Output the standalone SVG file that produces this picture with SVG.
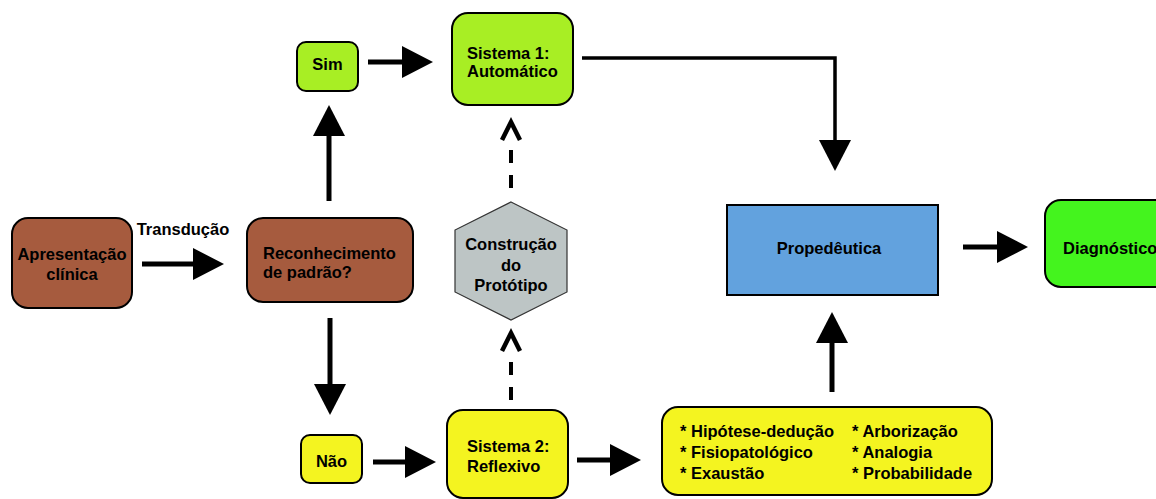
<svg xmlns="http://www.w3.org/2000/svg" width="1156" height="499" viewBox="0 0 1156 499">
  <style>
    text { font-family: "Liberation Sans", Arial, sans-serif; font-weight: bold; font-size: 16.5px; fill: #000; }
    .box { stroke: #000; stroke-width: 2; }
    .brown { fill: #A65B3E; }
    .lime { fill: #A8EE24; }
    .green { fill: #44F41E; }
    .blue { fill: #62A2DE; }
    .gray { fill: #BDC5C5; }
    .yellow { fill: #F4F420; }
    .c { text-anchor: middle; }
    .conn { stroke: #000; stroke-width: 5; fill: none; }
    .thin { stroke-width: 3.5; }
    .dash { stroke: #000; stroke-width: 4; fill: none; stroke-dasharray: 13 12; }
    .chev { stroke: #000; stroke-width: 4.5; fill: none; stroke-linejoin: miter; }
  </style>
  <defs>
    <marker id="head" markerUnits="userSpaceOnUse" markerWidth="32" markerHeight="34" refX="0" refY="16" orient="auto">
      <path d="M0,0 L31,16 L0,32 z" fill="#000"/>
    </marker>
  </defs>
  <rect width="1156" height="499" fill="#fff"/>

  <g id="connectors">
    <path class="conn" d="M142,264 H193" marker-end="url(#head)"/>
    <path class="conn" d="M368,62 H402" marker-end="url(#head)"/>
    <path class="conn" d="M373,462 H405" marker-end="url(#head)"/>
    <path class="conn" d="M577,460 H610" marker-end="url(#head)"/>
    <path class="conn" d="M963,247 H997" marker-end="url(#head)"/>
    <path class="conn" d="M329,201 V136" marker-end="url(#head)"/>
    <path class="conn" d="M330,318 V384" marker-end="url(#head)"/>
    <path class="conn" d="M832,392 V343" marker-end="url(#head)"/>
    <path class="conn thin" d="M582,58 H835 V140" marker-end="url(#head)"/>
    <path class="dash" d="M511,150 V190"/>
    <path class="chev" d="M502,140 L511,122 L520,140"/>
    <path class="dash" d="M511,362 V402"/>
    <path class="chev" d="M502,351 L511,333 L520,351"/>
    <text x="183" y="235" class="c">Transdução</text>
  </g>

  <g id="apresentacao">
    <rect class="box brown" x="12" y="218" width="120" height="90" rx="16"/>
    <text x="72" y="260" class="c">Apresentação</text>
    <text x="72" y="280" class="c">clínica</text>
  </g>

  <g id="reconhecimento">
    <rect class="box brown" x="247" y="218" width="166" height="84" rx="16"/>
    <text x="263" y="259">Reconhecimento</text>
    <text x="263" y="278">de padrão?</text>
  </g>

  <g id="sim">
    <rect class="box lime" x="297" y="42" width="61" height="49" rx="9"/>
    <text x="327.5" y="70" class="c">Sim</text>
  </g>

  <g id="sistema1">
    <rect class="box lime" x="452" y="13" width="121" height="92" rx="16"/>
    <text x="467" y="59">Sistema 1:</text>
    <text x="467" y="77">Automático</text>
  </g>

  <g id="prototipo">
    <polygon class="gray" points="511,202 567,230 567,292 511,320 455,292 455,230" stroke="#333" stroke-width="1.2"/>
    <text x="511" y="250" class="c">Construção</text>
    <text x="511" y="271" class="c">do</text>
    <text x="511" y="291" class="c">Protótipo</text>
  </g>

  <g id="propedeutica">
    <rect class="box blue" x="727" y="205" width="211" height="90"/>
    <text x="829" y="254" class="c">Propedêutica</text>
  </g>

  <g id="diagnostico">
    <rect class="box green" x="1045" y="200" width="130" height="87" rx="16"/>
    <text x="1063" y="254">Diagnóstico</text>
  </g>

  <g id="nao">
    <rect class="box yellow" x="301" y="435" width="61" height="48" rx="9"/>
    <text x="331.5" y="467" class="c">Não</text>
  </g>

  <g id="sistema2">
    <rect class="box yellow" x="447" y="410" width="121" height="88" rx="16"/>
    <text x="467" y="452">Sistema 2:</text>
    <text x="467" y="472">Reflexivo</text>
  </g>

  <g id="metodos">
    <rect class="box yellow" x="662" y="407" width="330" height="88" rx="16"/>
    <text x="680" y="437">* Hipótese-dedução</text>
    <text x="680" y="458">* Fisiopatológico</text>
    <text x="680" y="479">* Exaustão</text>
    <text x="852" y="437">* Arborização</text>
    <text x="852" y="458">* Analogia</text>
    <text x="852" y="479">* Probabilidade</text>
  </g>
</svg>
